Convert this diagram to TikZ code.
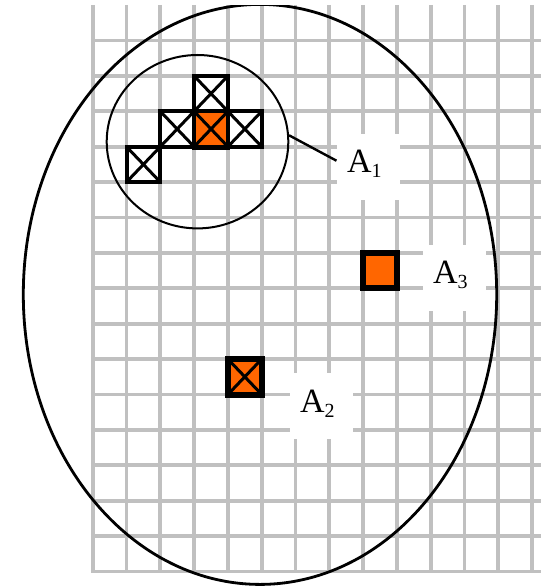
\documentclass[tikz,border=0pt]{standalone}
\usepackage{fontspec}
\setmainfont{Liberation Serif}
\usetikzlibrary{calc,shapes.geometric}
\definecolor{gridgray}{HTML}{C0C0C0}
\definecolor{cellorange}{HTML}{FF6600}
\newcommand\Alab[1]{\fontsize{34pt}{38pt}\selectfont A\raisebox{-5pt}{\fontsize{20pt}{23pt}\selectfont #1}\kern8pt\rule[-11pt]{0pt}{11pt}}
\begin{document}
\begin{tikzpicture}[x=1pt,y=-1pt,
  gridline/.style={draw=gridgray,line width=3.8pt},
  xcross/.style={path picture={\draw[line width=3pt]
     (path picture bounding box.north west) -- (path picture bounding box.south east)
     (path picture bounding box.north east) -- (path picture bounding box.south west);}},
  cellbase/.style={draw=black,minimum width=33.8pt,minimum height=35.4pt,inner sep=0pt},
  crosscell/.style={cellbase,line width=4pt,fill=white,xcross},
  hotcell/.style={cellbase,line width=4pt,fill=cellorange,xcross},
  bigcell/.style={cellbase,line width=6pt,fill=cellorange},
  labelbox/.style={fill=white,minimum width=63.3pt,minimum height=66.3pt,inner sep=0pt},
  outline/.style={draw=black,line width=2.8pt},
  zone/.style={draw=black,line width=2pt,ellipse,inner sep=0pt,minimum width=181.6pt,minimum height=173.4pt},
  leader/.style={draw=black,line width=2.4pt}
]
\fill[white] (0,0) rectangle (541,586);
\useasboundingbox (0,0) rectangle (541,586);
% grid
\foreach \i in {0,...,13}{
  \draw[gridline] ({92.7+33.8*\i},5) -- ({92.7+33.8*\i},573.4);
}
\foreach \k in {0,...,15}{
  \draw[gridline] (90.8,{40.5+35.4*\k}) -- (541,{40.5+35.4*\k});
}
% label boxes
\node[labelbox] (a1) at (368.3,166.7) {\Alab{1}};
\node[labelbox] (a3) at (454.3,278) {\Alab{3}};
\node[labelbox] (a2) at (321.3,406.3) {\Alab{2}};
% outer ellipse
\begin{scope}
  \clip (0,5.5) rectangle (541,586);
  \draw[outline] (260,294.4) ellipse [x radius=236.7pt, y radius=290pt];
\end{scope}
% inner zone
\node[zone] (c1) at (197.5,141.7) {};
% cells
\node[crosscell] (t1) at (211.0,93.6) {};
\node[crosscell] (m1) at (177.2,129.0) {};
\node[crosscell] (m3) at (244.8,129.0) {};
\node[crosscell] (l1) at (143.4,164.4) {};
\node[hotcell] (m2) at (211.0,129.0) {};
\draw[line width=3pt] (m2.south west) -- (m2.south east);
\node[bigcell,xcross] (p2) at (244.8,376.8) {};
\node[bigcell] (p3) at (380.0,270.6) {};
% leader
\draw[leader] (c1.4) -- ($(a1.west)+(0,-6)$);
\end{tikzpicture}
\end{document}
